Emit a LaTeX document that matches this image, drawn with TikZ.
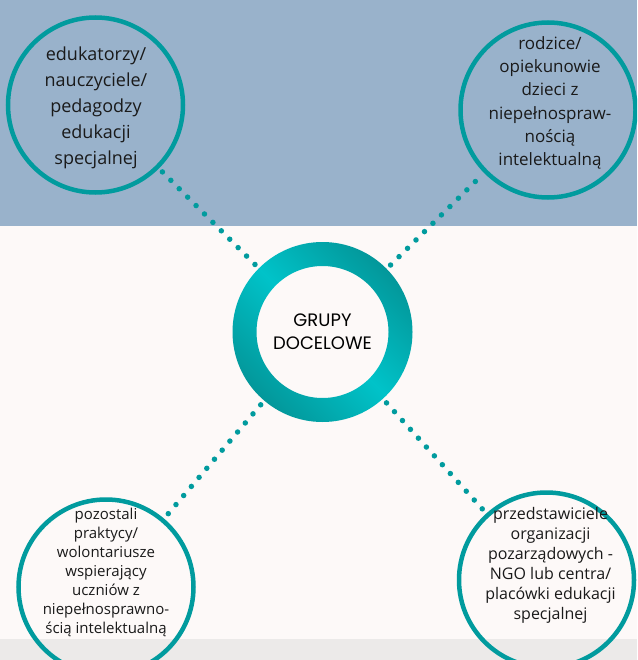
\documentclass[tikz,border=0pt]{standalone}
\usepackage{fontspec}
\setmainfont{Open Sans}
\newfontfamily\hubfont{Poppins}
\usepackage{xcolor}
\usetikzlibrary{positioning,shadings}
\definecolor{pasek}{HTML}{99B2CB}
\definecolor{tlo}{HTML}{FDF9F8}
\definecolor{stopka}{HTML}{ECEAE9}
\definecolor{morski}{HTML}{019B9E}
\definecolor{morskijasny}{HTML}{00C3C9}
\definecolor{morskiciemny}{HTML}{03979A}
\definecolor{tekst}{HTML}{1A1A1A}
\tikzset{
  grupa/.style={circle, draw=morski, line width=4.5pt, minimum size=175pt, inner sep=0pt, outer sep=0pt},
  kropki/.style={morski, line width=5.5pt, line cap=round, dash pattern=on 0pt off 11.9pt, shorten <=5.5pt, shorten >=6pt},
  opis/.style={align=center, text=tekst, inner sep=0pt},
}
\begin{document}
\begin{tikzpicture}[x=1pt, y=-1pt]
    \useasboundingbox (0,0) rectangle (637,660);
    \clip (0,0) rectangle (637,660);
    %tlo
    \fill[tlo] (0,0) rectangle (637,660);
    \fill[pasek] (0,0) rectangle (637,226);
    \fill[stopka] (0,639) rectangle (637,660);

    %srodek
    \node[circle, minimum size=180pt, inner sep=0pt, outer sep=0pt, align=center, text=black,
          font=\hubfont\fontsize{18}{22.7}\selectfont] (hub) at (322.5,332) {GRUPY\\DOCELOWE};
    \shade[even odd rule, top color=morskiciemny, bottom color=morskiciemny, middle color=morskijasny, shading angle=-45]
      (hub.center) circle (90pt) (hub.center) circle (66pt);

    %grupy
    \node[grupa] (tl) at (95.5,105) {};
    \node[grupa] (tr) at (548,110) {};
    \node[grupa] (bl) at (106,587) {};
    \node[grupa] (br) at (546.5,580) {};

    \node[opis, font=\fontsize{18}{26}\selectfont] (tltxt) at (96,108)
      {edukatorzy/\\nauczyciele/\\pedagodzy\\edukacji\\specjalnej};
    \node[opis, font=\fontsize{17}{23.3}\selectfont] (trtxt) at (550,103)
      {rodzice/\\opiekunowie\\dzieci z\\niepełnospraw-\\nością\\intelektualną};
    \node[opis, font=\fontsize{15}{19}\selectfont] (bltxt) at (106,572)
      {pozostali\\praktycy/\\wolontariusze\\wspierający\\uczniów z\\niepełnosprawno-\\ścią intelektualną};
    \node[opis, font=\fontsize{16}{20}\selectfont] (brtxt) at (550.5,565)
      {przedstawiciele\\organizacji\\pozarządowych -\\NGO lub centra/\\placówki edukacji\\specjalnej};

    %kropki
    \draw[kropki] (hub) -- (tl);
    \draw[kropki] (hub) -- (tr);
    \draw[kropki] (hub) -- (bl);
    \draw[kropki] (hub) -- (br);
\end{tikzpicture}
\end{document}
